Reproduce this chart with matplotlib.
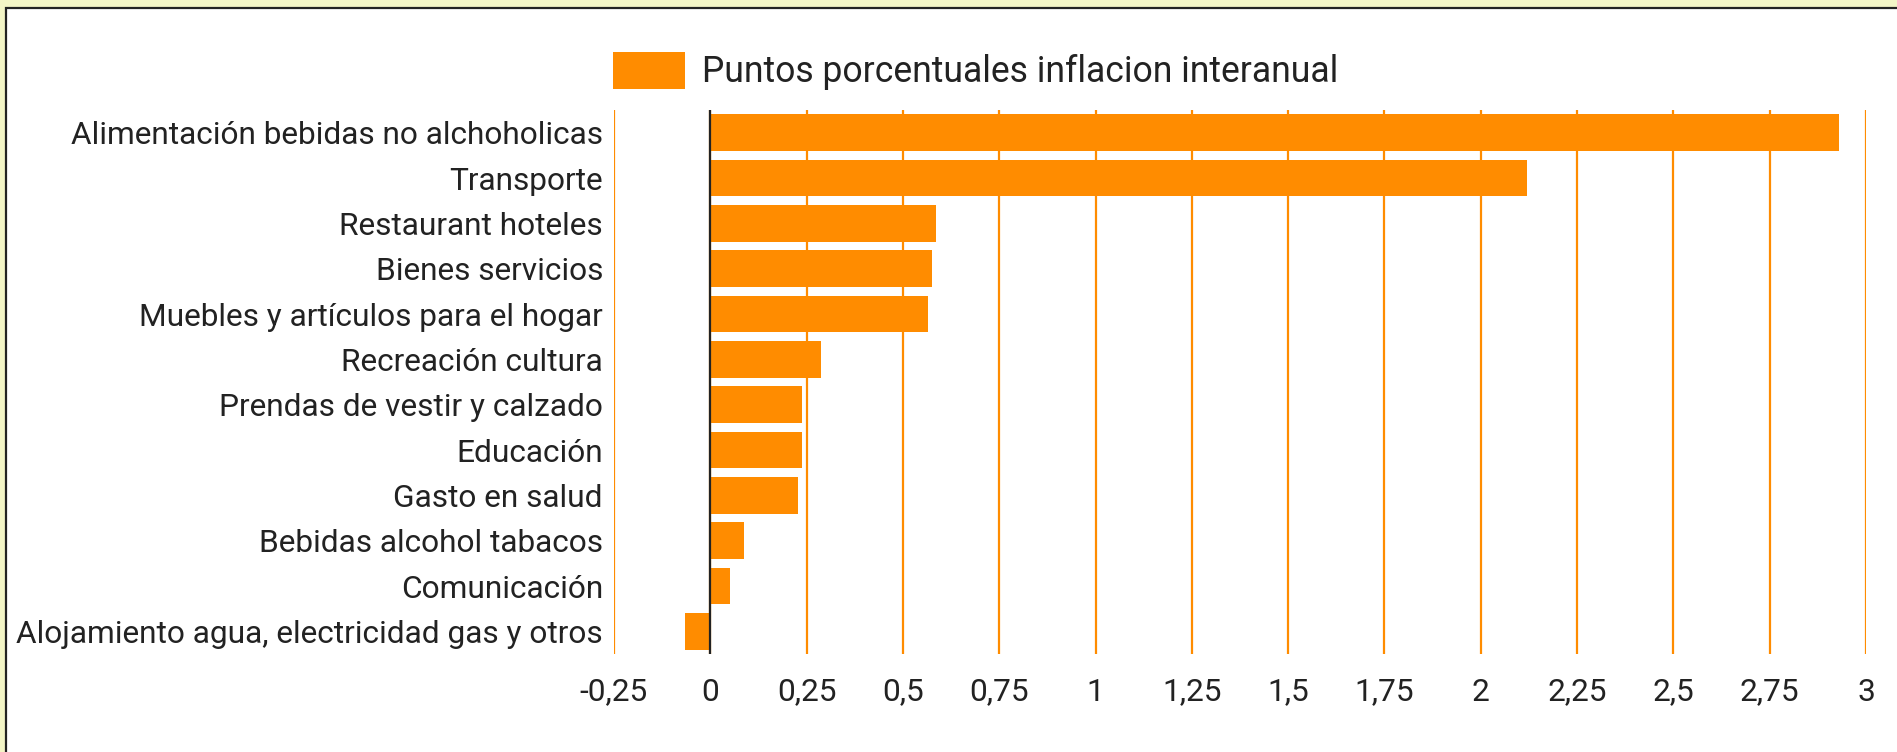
import matplotlib
matplotlib.use("Agg")
import matplotlib.pyplot as plt
from matplotlib.patches import Rectangle, Patch

categories = [
    "Alimentación bebidas no alchoholicas",
    "Transporte",
    "Restaurant hoteles",
    "Bienes servicios",
    "Muebles y artículos para el hogar",
    "Recreación cultura",
    "Prendas de vestir y calzado",
    "Educación",
    "Gasto en salud",
    "Bebidas alcohol tabacos",
    "Comunicación",
    "Alojamiento agua, electricidad gas y otros",
]
values = [2.93, 2.12, 0.586, 0.575, 0.565, 0.288, 0.237, 0.237, 0.227, 0.087, 0.05, -0.066]
xticks = [-0.25, 0, 0.25, 0.5, 0.75, 1, 1.25, 1.5, 1.75, 2, 2.25, 2.5, 2.75, 3]
xtick_labels = ["-0,25", "0", "0,25", "0,5", "0,75", "1", "1,25", "1,5", "1,75", "2", "2,25", "2,5", "2,75", "3"]
legend_label = "Puntos porcentuales inflacion interanual"

ORANGE = "#FF8C00"
TEXT = "#222222"

plt.rcParams['font.family'] = ['Roboto', 'DejaVu Sans']

W, H = 1897, 752
fig = plt.figure(figsize=(W / 100, H / 100), dpi=100)
fig.patch.set_facecolor("#f3f5c6")

# white panel with dark border (top/left visible)
fig.patches.append(Rectangle((6 / W, -0.05), 1.1, 1 - 8 / H + 0.05, transform=fig.transFigure,
                             facecolor="white", edgecolor="#222222", linewidth=1.6, zorder=-10))

ax = fig.add_axes([614 / W, 1 - 654 / H, (1866 - 614) / W, (654 - 110) / H])
ax.patch.set_alpha(0)
ypos = list(range(len(categories)))
ax.barh(ypos, values, height=0.81, color=ORANGE, zorder=3)
ax.set_ylim(len(categories) - 0.5, -0.5)
ax.set_xlim(-0.25, 3)
ax.set_yticks(ypos)
ax.set_yticklabels(categories, fontsize=22.8, color=TEXT)
ax.set_xticks(xticks)
ax.set_xticklabels(xtick_labels, fontsize=22.8, color=TEXT)
ax.tick_params(axis='both', length=0)
ax.tick_params(axis='y', pad=8)
ax.tick_params(axis='x', pad=17)
for s in ax.spines.values():
    s.set_visible(False)
ax.grid(axis='x', color=ORANGE, linewidth=1.6, zorder=1)
ax.grid(axis='y', visible=False)
ax.axvline(0, color="#222222", linewidth=1.6, zorder=4)

fs_leg = 25.6
em = fs_leg / 72 * 100
leg = fig.legend(handles=[Patch(facecolor=ORANGE, edgecolor='none', label=legend_label)],
                 loc='upper left', bbox_to_anchor=(613 / W, 1 - 52 / H),
                 bbox_transform=fig.transFigure, frameon=False, fontsize=fs_leg,
                 handlelength=72 / em, handleheight=1.22, handletextpad=17 / em,
                 borderpad=0, borderaxespad=0)
for t in leg.get_texts():
    t.set_color(TEXT)

fig.savefig("out.png", dpi=100, facecolor=fig.get_facecolor())
